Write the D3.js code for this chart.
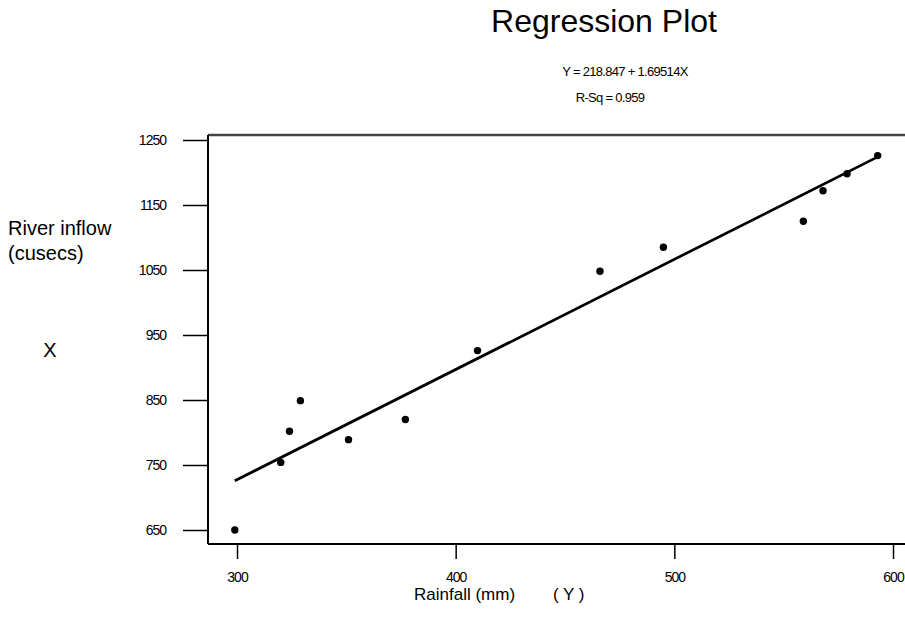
<!DOCTYPE html>
<html>
<head>
<meta charset="utf-8">
<script src="https://cdn.jsdelivr.net/npm/d3@7"></script>
<style>
  body { margin: 0; background: #fff; }
  text { font-family: "Liberation Sans", Arial, sans-serif; fill: #000; }
  .tick text { font-size: 14px; letter-spacing: -1px; }
</style>
</head>
<body>
<script>
const rainfall = [299, 320, 324, 329, 351, 377, 410, 466, 495, 559, 568, 579, 593];
const inflow = [650, 754, 802, 849, 789, 820, 926, 1048, 1085, 1125, 1172, 1198, 1226];
const xTicks = [300, 400, 500, 600];
const yTicks = [650, 750, 850, 950, 1050, 1150, 1250];
const intercept = 218.847;
const slope = 1.69514;

const w = 905;
const h = 638;
const frameLeft = 208;
const frameTop = 135;
const frameBottom = 544;

const svg = d3.select("body")
  .append("svg")
  .attr("width", w)
  .attr("height", h);

const xScale = d3.scaleLinear().domain([300, 600]).range([237, 893]);
const yScale = d3.scaleLinear().domain([650, 1250]).range([530, 140]);

// titles
svg.append("text")
  .attr("x", 604).attr("y", 32)
  .attr("text-anchor", "middle")
  .style("font-size", "32px")
  .text("Regression Plot");

svg.append("text")
  .attr("x", 625).attr("y", 76)
  .attr("text-anchor", "middle")
  .style("font-size", "13px")
  .style("letter-spacing", "-0.7px")
  .text("Y = 218.847 + 1.69514X");

svg.append("text")
  .attr("x", 610).attr("y", 102)
  .attr("text-anchor", "middle")
  .style("font-size", "13px")
  .style("letter-spacing", "-0.7px")
  .text("R-Sq = 0.959");

// axes
const yAxis = d3.axisLeft(yScale)
  .tickValues(yTicks)
  .tickFormat(d3.format("d"))
  .tickSize(25)
  .tickPadding(17);

const xAxis = d3.axisBottom(xScale)
  .tickValues(xTicks)
  .tickFormat(d3.format("d"))
  .tickSize(15)
  .tickPadding(13);

svg.append("g")
  .attr("transform", `translate(${frameLeft},0)`)
  .call(yAxis)
  .call(g => g.select(".domain").remove())
  .call(g => g.selectAll(".tick line").attr("stroke", "#000").attr("stroke-width", 1.5));

svg.append("g")
  .attr("transform", `translate(0,${frameBottom})`)
  .call(xAxis)
  .call(g => g.select(".domain").remove())
  .call(g => g.selectAll(".tick line").attr("stroke", "#000").attr("stroke-width", 1.5));

svg.selectAll(".tick text").attr("fill", "#000");

// frame
svg.append("line")
  .attr("x1", frameLeft).attr("x2", w)
  .attr("y1", frameTop).attr("y2", frameTop)
  .attr("stroke", "#444").attr("stroke-width", 2.5);

svg.append("line")
  .attr("x1", frameLeft).attr("x2", frameLeft)
  .attr("y1", frameTop).attr("y2", frameBottom)
  .attr("stroke", "#000").attr("stroke-width", 2);

svg.append("line")
  .attr("x1", frameLeft).attr("x2", w)
  .attr("y1", frameBottom).attr("y2", frameBottom)
  .attr("stroke", "#000").attr("stroke-width", 2);

// fitted line
const xMin = d3.min(rainfall);
const xMax = d3.max(rainfall);
svg.append("path")
  .datum([xMin, xMax])
  .attr("fill", "none")
  .attr("stroke", "#000")
  .attr("stroke-width", 2.7)
  .attr("d", d3.line()
    .x(d => xScale(d))
    .y(d => yScale(intercept + slope * d)));

// points
svg.selectAll(".dot")
  .data(rainfall.map((r, i) => ({ r, q: inflow[i] })))
  .enter()
  .append("circle")
  .attr("class", "dot")
  .attr("cx", d => xScale(d.r))
  .attr("cy", d => yScale(d.q))
  .attr("r", 3.7)
  .attr("fill", "#000");

// axis titles
svg.append("text")
  .attr("x", 8).attr("y", 235)
  .style("font-size", "20px")
  .text("River inflow");

svg.append("text")
  .attr("x", 8).attr("y", 260)
  .style("font-size", "20px")
  .text("(cusecs)");

svg.append("text")
  .attr("x", 50).attr("y", 357)
  .attr("text-anchor", "middle")
  .style("font-size", "20px")
  .text("X");

svg.append("text")
  .attr("x", 414).attr("y", 600)
  .style("font-size", "17px")
  .text("Rainfall (mm)");

svg.append("text")
  .attr("x", 553).attr("y", 600)
  .style("font-size", "17px")
  .text("( Y )");
</script>
</body>
</html>
